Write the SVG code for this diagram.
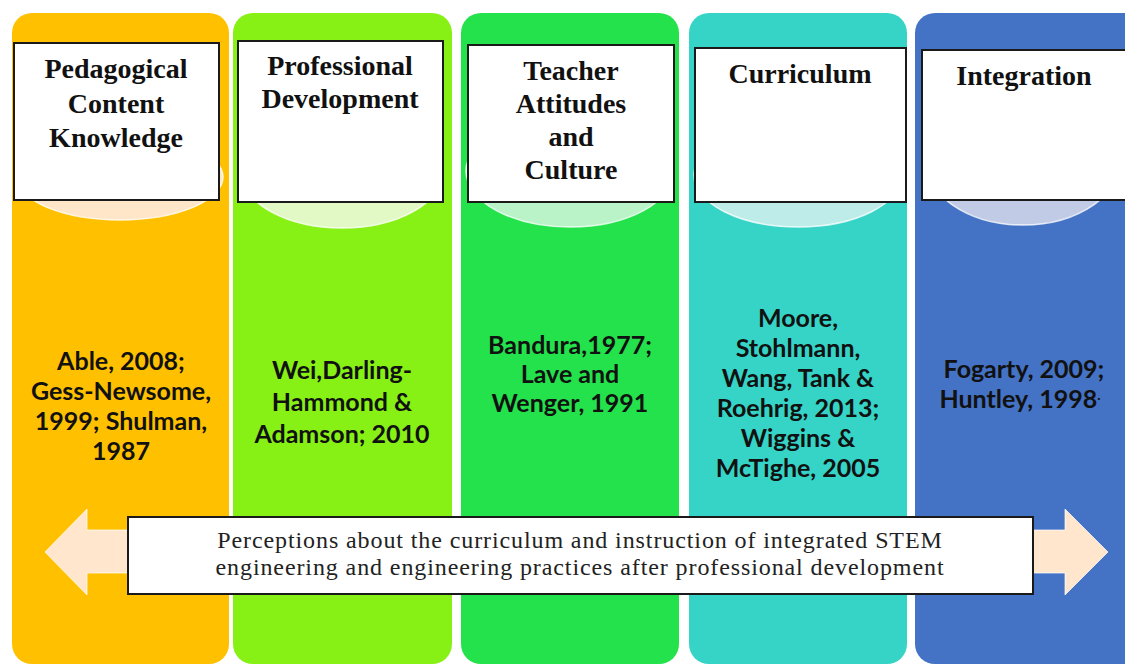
<svg xmlns="http://www.w3.org/2000/svg" width="1125" height="665" viewBox="0 0 1125 665">
<style>
.col{stroke:none}
.disc{stroke:#ffffff;stroke-width:1.5;stroke-opacity:0.8}
.box{fill:#ffffff;stroke:#1a1a1a;stroke-width:2}
.title{font-family:"Liberation Serif","Times New Roman",serif;font-weight:bold;font-size:28px;fill:#111111;text-anchor:middle}
.ref{font-family:Lato,"Liberation Sans",sans-serif;font-weight:bold;font-size:25px;fill:#111111;text-anchor:middle}
.note{font-family:"Liberation Serif","Times New Roman",serif;font-size:24px;letter-spacing:0.9px;fill:#222222;text-anchor:middle}
</style>
<rect width="1125" height="665" fill="#ffffff"/>
<g id="node-pck">
<rect class="col" x="12" y="13" width="217" height="651" rx="20" fill="#FFC000"/>
<ellipse class="disc" cx="120" cy="177" rx="103" ry="43" fill="#FFE6C9"/>
<rect class="box" x="14" y="43" width="205" height="157"/>
<text class="title" x="116" y="78">Pedagogical</text>
<text class="title" x="116" y="113">Content</text>
<text class="title" x="116" y="147">Knowledge</text>
<text class="ref" x="121" y="370">Able, 2008;</text>
<text class="ref" x="121" y="400">Gess-Newsome,</text>
<text class="ref" x="121" y="430">1999; Shulman,</text>
<text class="ref" x="121" y="460">1987</text>
</g>
<g id="node-pd">
<rect class="col" x="233" y="13" width="219" height="651" rx="20" fill="#87F014"/>
<ellipse class="disc" cx="342" cy="173" rx="100" ry="55" fill="#E2F9C6"/>
<rect class="box" x="238" y="41" width="205" height="161"/>
<text class="title" x="340" y="75">Professional</text>
<text class="title" x="340" y="108">Development</text>
<text class="ref" x="342" y="379">Wei,Darling-</text>
<text class="ref" x="342" y="411">Hammond &amp;</text>
<text class="ref" x="342" y="443">Adamson; 2010</text>
</g>
<g id="node-tac">
<rect class="col" x="461" y="13" width="218" height="651" rx="20" fill="#23E24B"/>
<ellipse class="disc" cx="570" cy="171" rx="104" ry="56" fill="#BAF3C8"/>
<rect class="box" x="468" y="45" width="206" height="157"/>
<text class="title" x="571" y="80">Teacher</text>
<text class="title" x="571" y="113">Attitudes</text>
<text class="title" x="571" y="146">and</text>
<text class="title" x="571" y="179">Culture</text>
<text class="ref" x="570" y="354">Bandura,1977;</text>
<text class="ref" x="570" y="383">Lave and</text>
<text class="ref" x="570" y="412">Wenger, 1991</text>
</g>
<g id="node-curriculum">
<rect class="col" x="689" y="13" width="218" height="651" rx="20" fill="#35D4C6"/>
<ellipse class="disc" cx="798" cy="175" rx="104" ry="52" fill="#BEECE8"/>
<rect class="box" x="695" y="48" width="211" height="154"/>
<text class="title" x="800" y="83">Curriculum</text>
<text class="ref" x="798" y="327">Moore,</text>
<text class="ref" x="798" y="357">Stohlmann,</text>
<text class="ref" x="798" y="387">Wang, Tank &amp;</text>
<text class="ref" x="798" y="417">Roehrig, 2013;</text>
<text class="ref" x="798" y="447">Wiggins &amp;</text>
<text class="ref" x="798" y="477">McTighe, 2005</text>
</g>
<g id="node-integration">
<rect class="col" x="915" y="13" width="240" height="651" rx="20" fill="#4472C4"/>
<ellipse class="disc" cx="1023" cy="156" rx="100" ry="69" fill="#C1CBE6"/>
<rect class="box" x="922" y="50" width="220" height="150"/>
<text class="title" x="1024" y="85">Integration</text>
<text class="ref" x="1024" y="378">Fogarty, 2009;</text>
<text class="ref" x="1020" y="408">Huntley, 1998<tspan font-size="12" dy="-6">·</tspan></text>
</g>
<g id="connectors">
<path d="M45,552 L87,509 L87,530 L1065,530 L1065,509 L1108,552 L1065,595 L1065,573 L87,573 L87,595 Z" fill="#FFE6CC" stroke="#ffffff" stroke-width="1" stroke-opacity="0.7"/>
</g>
<g id="node-perceptions">
<rect class="box" x="128" y="517" width="905" height="77"/>
<text class="note" x="580" y="548">Perceptions about the curriculum and instruction of integrated STEM</text>
<text class="note" x="580" y="575">engineering and engineering practices after professional development</text>
</g>
</svg>
